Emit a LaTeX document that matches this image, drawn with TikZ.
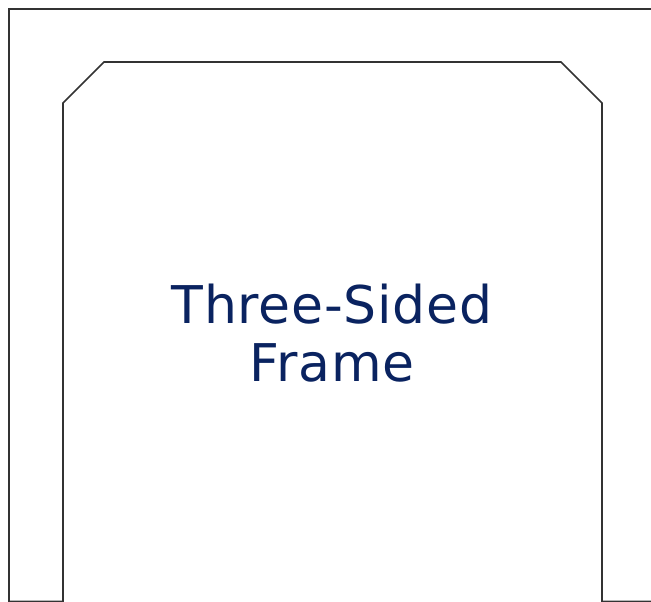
\documentclass[tikz,border=0pt]{standalone}
\usepackage{fontspec}
\setmainfont[LetterSpace=1.5]{DejaVu Sans}
\definecolor{framegray}{HTML}{333333}
\definecolor{navy}{HTML}{0A2360}
\begin{document}
\begin{tikzpicture}[x=0.75pt,y=-0.75pt,
  frameline/.style={draw=framegray,line width=1.25pt,line join=miter},
  label/.style={text=navy,font=\fontsize{39}{43.5}\selectfont,align=center,inner sep=0pt}]
\useasboundingbox (0,0) rectangle (651,602);
\clip (0,0) rectangle (651,602);
\fill[white] (0,0) rectangle (651,602);
\draw[frameline] (9,601.5) -- (9,9) -- (656,9) -- (656,601.5) -- (602,601.5) -- (602,103) -- (561,62) -- (104,62) -- (63,103) -- (63,601.5) -- cycle;
\node[label] (t) at (332,333) {Three-Sided\\Frame};
\end{tikzpicture}
\end{document}
